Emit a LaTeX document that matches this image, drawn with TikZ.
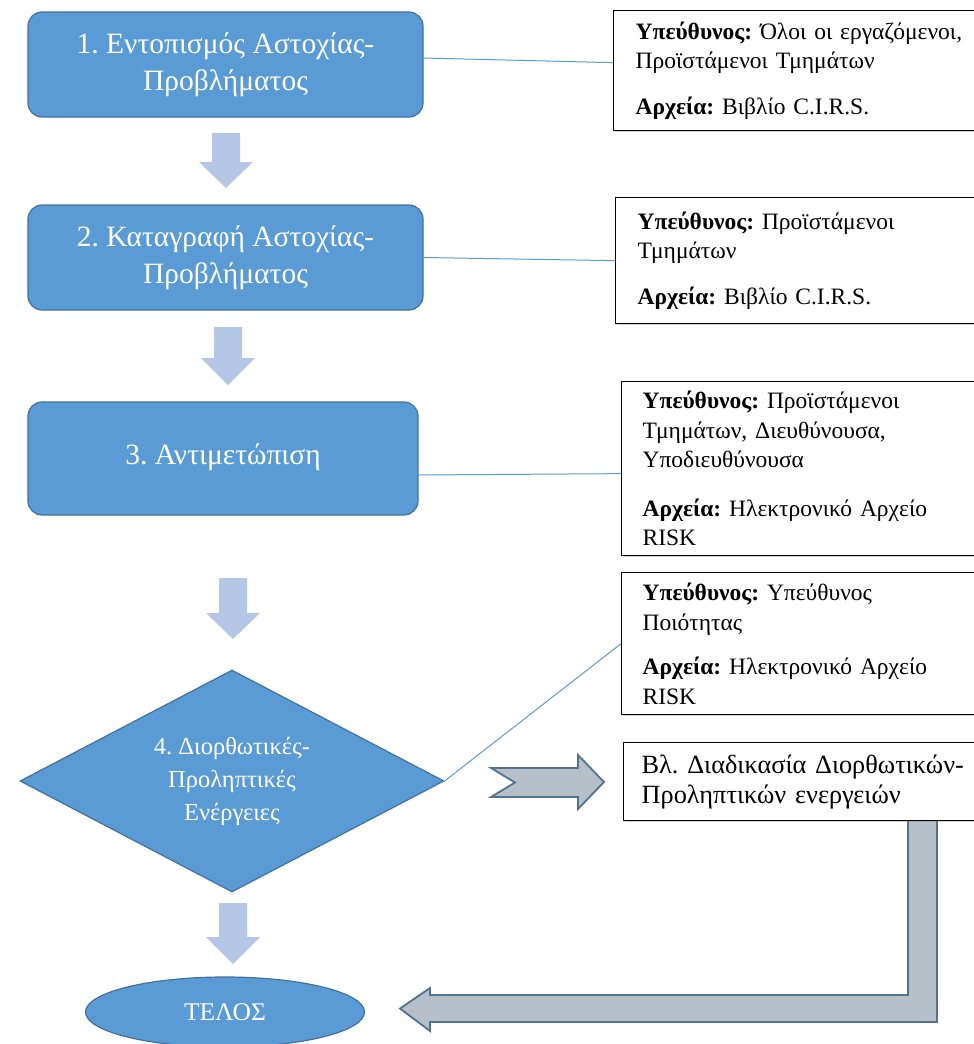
\documentclass[tikz,border=0pt]{standalone}
\usepackage{fontspec}
\setmainfont{Liberation Serif}
\usetikzlibrary{shapes.geometric,shadows,calc}
\definecolor{bfill}{HTML}{5B9BD5}
\definecolor{bdraw}{HTML}{41719C}
\definecolor{lblue}{HTML}{B4C7E7}
\definecolor{gfill}{HTML}{B7BFC8}
\definecolor{gdraw}{HTML}{53728F}
\definecolor{cline}{HTML}{5B9BD5}
\frenchspacing
\newcommand\fdarrow[4]{\fill[downarr] (#1-14,#2) -- (#1+14,#2) -- (#1+14,#3) -- (#1+27,#3) -- (#1,#4) -- (#1-27,#3) -- (#1-14,#3) -- cycle;}
\begin{document}
\begin{tikzpicture}[x=1pt,y=-1pt,
 bluebox/.style={draw=bdraw, line width=1.2pt, fill=bfill, rounded corners=14pt, text=white, align=center, font=\fontsize{29.5pt}{37pt}\selectfont, inner sep=0pt},
 infobox/.style={draw=black, line width=1.3pt, fill=white, align=left, text width=330pt, inner xsep=22pt, inner ysep=0pt, anchor=north west, font=\fontsize{23.5pt}{29.5pt}\selectfont, drop shadow={shadow xshift=1.5pt,shadow yshift=-1.5pt,opacity=0.35}},
 conn/.style={draw=cline, line width=1pt},
 downarr/.style={fill=lblue},
 grayarr/.style={fill=gfill, draw=gdraw, line width=1.8pt, line join=miter}]
\useasboundingbox (0,0) rectangle (974,1044);
\clip (0,0) rectangle (974,1044);
\fill[white] (0,0) rectangle (974,1044);

% blue process boxes
\node[bluebox, minimum width=395pt, minimum height=105pt] (b1) at (225.5,64.5) {1. Εντοπισμός Αστοχίας-\\Προβλήματος};
\node[bluebox, minimum width=395pt, minimum height=105pt] (b2) at (225.5,257.5) {2. Καταγραφή Αστοχίας-\\Προβλήματος};
\node[bluebox, minimum width=390pt, minimum height=113pt] (b3) at (223,458.5) {\raisebox{9pt}{3. Αντιμετώπιση}};
\node[diamond, draw=bdraw, fill=bfill, line width=1.2pt, minimum width=424pt, minimum height=222pt, inner sep=0pt, aspect=1.9, text=white, align=center, font=\fontsize{24.5pt}{33pt}\selectfont] (d4) at (232,781) {4. Διορθωτικές-\\Προληπτικές\\Ενέργειες};
\node[ellipse, draw=bdraw, fill=bfill, line width=1.2pt, minimum width=279pt, minimum height=70pt, inner sep=0pt, text=white, font=\fontsize{25.5pt}{28pt}\selectfont] (end) at (225,1012) {ΤΕΛΟΣ};

% down arrows
\fdarrow{226}{133}{162}{188}
\fdarrow{228}{327}{358}{385}
\fdarrow{233}{578}{613}{639}
\fdarrow{233}{903}{937}{964}

% gray arrows
\draw[grayarr] (491,768) -- (578,768) -- (578,755) -- (604,782) -- (578,809) -- (578,797) -- (491,797) -- (515,782.5) -- cycle;
\draw[grayarr] (908,818) -- (937,818) -- (937,1022) -- (430,1022) -- (430,1031) -- (400,1008.5) -- (430,988) -- (430,995) -- (908,995) -- cycle;

% info boxes
\node[infobox, minimum height=120pt] (r1) at (613,10) {\textbf{Υπεύθυνος:} Όλοι οι εργαζόμενοι,\\Προϊστάμενοι Τμημάτων\\[16pt]\textbf{Αρχεία:} Βιβλίο C.I.R.S.};
\node[infobox, minimum height=126pt] (r2) at (615,197) {\textbf{Υπεύθυνος:} Προϊστάμενοι\\Τμημάτων\\[16pt]\textbf{Αρχεία:} Βιβλίο C.I.R.S.};
\node[infobox, inner xsep=21pt, minimum height=174pt] (r3) at (621,381) {\textbf{Υπεύθυνος:} Προϊστάμενοι\\Τμημάτων, Διευθύνουσα,\\Υποδιευθύνουσα\\[19pt]\textbf{Αρχεία:} Ηλεκτρονικό Αρχείο\\RISK};
\node[infobox, inner xsep=21pt, minimum height=142pt] (r4) at (621,572) {\textbf{Υπεύθυνος:} Υπεύθυνος\\Ποιότητας\\[15pt]\textbf{Αρχεία:} Ηλεκτρονικό Αρχείο\\RISK};
\node[infobox, inner xsep=18pt, minimum height=78pt, font=\fontsize{26.3pt}{30pt}\selectfont] (r5) at (623,742) {Βλ. Διαδικασία Διορθωτικών-\\Προληπτικών ενεργειών};

% connectors
\draw[conn] ([yshift=6.5pt]b1.east) -- ([yshift=8pt]r1.west);
\draw[conn] (b2.east) -- (r2.west);
\draw[conn] ([yshift=-16.5pt]b3.east) -- ([yshift=-5pt]r3.west);
\draw[conn] (d4.east) -- (r4.west);
\end{tikzpicture}
\end{document}
